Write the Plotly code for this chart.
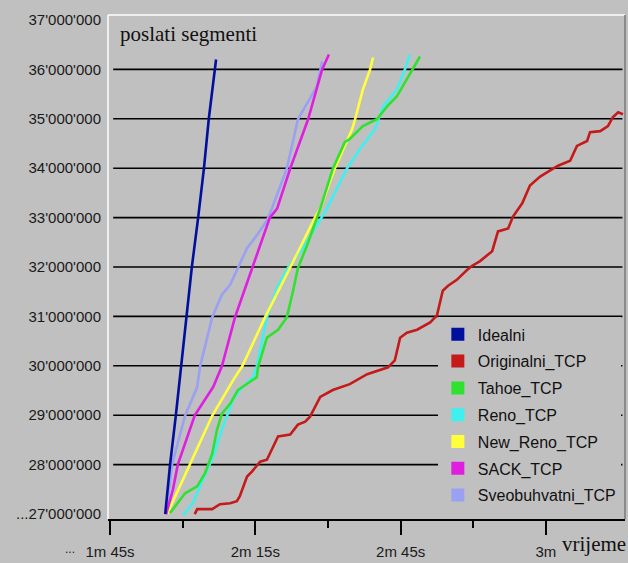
import plotly.graph_objects as go

# Time axis in seconds, sent segments in millions
idealni_t = [116.4, 117.4, 118.6, 119.7, 120.9, 121.9, 123.2, 124.4, 125.4, 126.7, 126.9]
idealni_s = [27.0, 28.0, 29.0, 30.0, 31.0, 32.0, 33.0, 34.0, 35.0, 36.0, 36.2]

originalni_t = [122.5, 123.0, 126.1, 127.7, 129.8, 131.2, 131.8, 133.3, 134.3, 136.0, 137.4,
                139.1, 139.7, 142.2, 143.8, 145.3, 146.3, 148.4, 151.0, 154.5, 158.1, 162.4,
                163.8, 164.9, 166.3, 168.4, 171.1, 172.5, 173.7, 174.8, 176.6, 178.7, 179.7,
                181.4, 183.9, 185.1, 187.2, 188.2, 190.1, 191.7, 193.8, 195.8, 197.5, 200.0,
                201.4, 203.5, 204.1, 206.2, 207.8, 208.8, 209.9, 210.9]
originalni_s = [27.0, 27.1, 27.1, 27.2, 27.22, 27.26, 27.36, 27.76, 27.86, 28.06, 28.1,
                28.47, 28.57, 28.61, 28.81, 28.87, 28.97, 29.37, 29.51, 29.63, 29.83, 29.97,
                30.11, 30.57, 30.67, 30.73, 30.88, 31.02, 31.52, 31.62, 31.74, 31.94, 32.02,
                32.12, 32.32, 32.72, 32.78, 33.02, 33.29, 33.65, 33.83, 33.95, 34.05, 34.15,
                34.45, 34.55, 34.73, 34.75, 34.85, 35.03, 35.13, 35.09]

tahoe_t = [117.4, 120.5, 123.0, 124.6, 126.1, 127.1, 128.1, 129.8, 131.4, 133.3, 135.3,
           135.6, 137.4, 139.7, 141.5, 142.8, 143.8, 145.7, 147.7, 148.4, 151.0, 153.5,
           154.5, 157.2, 160.1, 162.2, 164.2, 166.3, 167.6, 169.0]
tahoe_s = [27.02, 27.42, 27.56, 27.82, 28.22, 28.71, 29.03, 29.23, 29.51, 29.63, 29.77,
           29.99, 30.57, 30.73, 30.98, 31.52, 31.98, 32.44, 33.0, 33.18, 33.99, 34.53,
           34.59, 34.85, 34.99, 35.25, 35.45, 35.80, 36.0, 36.26]

reno_t = [120.1, 122.1, 124.2, 126.3, 128.1, 129.4, 130.4, 131.8, 134.5, 135.3, 137.4,
          139.5, 141.7, 144.8, 148.8, 149.8, 153.9, 156.6, 159.7, 161.4, 164.2, 165.9, 166.9]
reno_s = [26.97, 27.22, 27.7, 28.16, 28.71, 29.03, 29.31, 29.51, 29.77, 29.99, 30.98,
          31.58, 31.98, 32.38, 33.0, 33.18, 33.99, 34.39, 34.79, 35.25, 35.59, 36.0, 36.3]

new_reno_t = [116.8, 121.5, 126.1, 130.8, 132.3, 137.0, 142.2, 144.2, 147.3, 148.4,
              151.4, 155.0, 155.6, 157.2, 158.7, 159.3]
new_reno_s = [27.0, 28.0, 28.99, 29.77, 29.99, 30.98, 31.98, 32.38, 33.0, 33.18,
              33.99, 34.79, 34.99, 35.59, 36.0, 36.24]

sack_t = [116.6, 118.0, 119.0, 122.5, 126.3, 128.1, 130.8, 134.3, 136.6, 138.0, 139.5,
          142.2, 145.9, 148.8, 150.2]
sack_s = [27.0, 27.5, 28.0, 29.0, 29.57, 29.99, 30.98, 31.98, 32.64, 33.0, 33.18,
          33.99, 34.99, 36.0, 36.3]

sveobuhvatni_t = [116.6, 117.8, 120.5, 123.0, 123.6, 126.1, 128.1, 129.8, 131.4, 133.3,
                  135.3, 137.4, 138.4, 141.5, 143.8, 145.9, 147.7, 148.8]
sveobuhvatni_s = [27.0, 28.0, 28.99, 29.57, 29.99, 30.98, 31.44, 31.64, 31.98, 32.38,
                  32.64, 32.94, 33.18, 33.99, 34.99, 35.33, 35.65, 36.16]

y_ticks = [27, 28, 29, 30, 31, 32, 33, 34, 35, 36, 37]
y_labels = ["...27'000'000", "28'000'000", "29'000'000", "30'000'000", "31'000'000",
            "32'000'000", "33'000'000", "34'000'000", "35'000'000", "36'000'000",
            "37'000'000"]
grid_values = [28, 29, 30, 31, 32, 33, 34, 35, 36]
x_ticks = [105, 135, 165, 195]
x_labels = ["1m 45s", "2m 15s", "2m 45s", "3m"]
x_minor = [120, 150, 180]

series = [
    ("Idealni", idealni_t, idealni_s, "#00109c"),
    ("Originalni_TCP", originalni_t, originalni_s, "#c41a1a"),
    ("Tahoe_TCP", tahoe_t, tahoe_s, "#2fe22f"),
    ("Reno_TCP", reno_t, reno_s, "#3ff0f0"),
    ("New_Reno_TCP", new_reno_t, new_reno_s, "#ffff3c"),
    ("SACK_TCP", sack_t, sack_s, "#e01ee0"),
    ("Sveobuhvatni_TCP", sveobuhvatni_t, sveobuhvatni_s, "#9aa0f2"),
]
draw_order = ["Sveobuhvatni_TCP", "Reno_TCP", "New_Reno_TCP", "Tahoe_TCP",
              "SACK_TCP", "Originalni_TCP", "Idealni"]

BG = "#c0c0c0"
SANS = "Liberation Sans, Arial, sans-serif"
SERIF = "Liberation Serif, Times New Roman, serif"

fig = go.Figure()
by_name = {s[0]: s for s in series}
for name in draw_order:
    _, t, s, c = by_name[name]
    fig.add_trace(go.Scatter(x=t, y=s, mode="lines", line=dict(color=c, width=2.6),
                             showlegend=False, hoverinfo="skip"))

# legend entries with square swatches
for i, (name, _, _, c) in enumerate(series):
    fig.add_trace(go.Scatter(x=[None], y=[None], mode="markers", name=name,
                             legendgroup=f"g{i}",
                             marker=dict(symbol="square", size=13, color=c)))

for v in grid_values:
    fig.add_shape(type="line", xref="paper", yref="y", x0=0.01, x1=0.995, y0=v, y1=v,
                  line=dict(color="black", width=1.6), layer="below")

# frame of the plotting area
fig.add_shape(type="line", xref="paper", yref="paper", x0=0, x1=0, y0=0, y1=1,
              line=dict(color="white", width=1.5))
fig.add_shape(type="line", xref="paper", yref="paper", x0=0, x1=1, y0=1, y1=1,
              line=dict(color="white", width=1.5))
fig.add_shape(type="line", xref="paper", yref="paper", x0=1, x1=1, y0=0, y1=1,
              line=dict(color="#7a7a7a", width=1.5))

fig.add_annotation(text="poslati segmenti", xref="paper", yref="paper", x=0.02, y=0.99,
                   xanchor="left", yanchor="top", showarrow=False,
                   font=dict(family=SERIF, size=21, color="#111111"))
fig.add_annotation(text="vrijeme", xref="paper", yref="paper", x=1.005, y=-0.05,
                   xanchor="right", yanchor="middle", showarrow=False,
                   font=dict(family=SERIF, size=21, color="#111111"))
fig.add_annotation(text="...", xref="paper", yref="paper", x=-0.06, y=-0.06,
                   xanchor="right", yanchor="middle", showarrow=False,
                   font=dict(family=SANS, size=12, color="#222222"))

fig.update_layout(
    width=628, height=563,
    margin=dict(l=108, r=3, t=15, b=40),
    paper_bgcolor=BG, plot_bgcolor=BG,
    showlegend=True,
    legend=dict(x=0.638, y=0.4, xanchor="left", yanchor="top",
                bgcolor=BG, borderwidth=0, traceorder="grouped", tracegroupgap=3,
                font=dict(family=SANS, size=16, color="#111111")),
    xaxis=dict(range=[104.59, 211.32], showgrid=False, zeroline=False,
               showline=True, linecolor="black", linewidth=2,
               tickmode="array", tickvals=x_ticks, ticktext=x_labels,
               ticks="outside", ticklen=14, tickwidth=2, tickcolor="black",
               ticklabelstandoff=4,
               minor=dict(tickmode="array", tickvals=x_minor, ticks="outside",
                          ticklen=7, tickwidth=2, tickcolor="black", showgrid=False),
               tickfont=dict(family=SANS, size=15, color="#1a1a1a")),
    yaxis=dict(range=[26.9, 37.1], showgrid=False, zeroline=False, showline=False,
               tickmode="array", tickvals=y_ticks, ticktext=y_labels,
               ticks="", ticklabelstandoff=6,
               tickfont=dict(family=SANS, size=15, color="#1a1a1a")),
)

fig.write_html("out.html")
